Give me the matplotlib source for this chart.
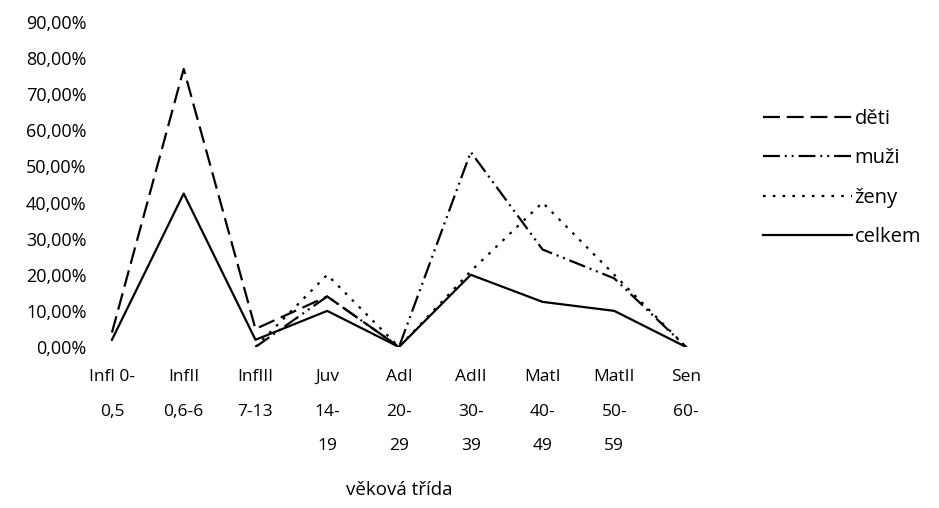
import numpy as np
import matplotlib.pyplot as plt

plt.rcParams['font.family'] = ['Open Sans', 'DejaVu Sans']

categories = ["Infl 0-\n0,5", "InfII\n0,6-6", "InfIII\n7-13", "Juv\n14-\n19", "AdI\n20-\n29",
              "AdII\n30-\n39", "MatI\n40-\n49", "MatII\n50-\n59", "Sen\n60-"]
nan = np.nan
deti = [4, 77, 5, 14, 0, nan, nan, nan, nan]
muzi = [nan, nan, 0, 14, 0, 54, 27, 19, 0]
zeny = [nan, nan, 0, 20, 0, 21, 40, 20, 0]
celkem = [2, 42.5, 2, 10, 0, 20, 12.5, 10, 0]
y_ticks = [0, 10, 20, 30, 40, 50, 60, 70, 80, 90]

W, H = 939, 508
fig = plt.figure(figsize=(W / 100, H / 100), dpi=100)
ax = fig.add_axes([95 / W, (H - 347) / H, (703 - 95) / W, (347 - 22) / H])

x = np.arange(len(categories))
lw = 1.6
ax.plot(x, deti, color='black', lw=lw, dashes=(7.6, 3.1), label='děti')
ax.plot(x, muzi, color='black', lw=lw, dashes=(7.6, 2.2, 0.9, 2.2, 0.9, 2.2), label='muži')
ax.plot(x, zeny, color='black', lw=lw, dashes=(1.2, 3.2), label='ženy')
ax.plot(x, celkem, color='black', lw=lw, label='celkem')

ax.set_xlim(-0.236, 8.236)
ax.set_ylim(0, 90)
ax.set_yticks(y_ticks)
ax.set_yticklabels([f"{v},00%" for v in y_ticks], fontsize=13)
ax.set_xticks(x)
ax.set_xticklabels(categories, fontsize=12.5, linespacing=2.55, va='top')
ax.tick_params(axis='both', length=0)
ax.tick_params(axis='y', pad=6)
ax.tick_params(axis='x', pad=16)
for s in ax.spines.values():
    s.set_visible(False)
ax.set_xlabel("věková třída", fontsize=13.5, labelpad=19)

fig.legend(loc='center left', bbox_to_anchor=(763 / W, (H - 178) / H),
           bbox_transform=fig.transFigure, frameon=False, fontsize=14.5,
           handlelength=4.4, handletextpad=0.15, labelspacing=0.95,
           borderpad=0, borderaxespad=0)

fig.savefig("out.png", dpi=100)
